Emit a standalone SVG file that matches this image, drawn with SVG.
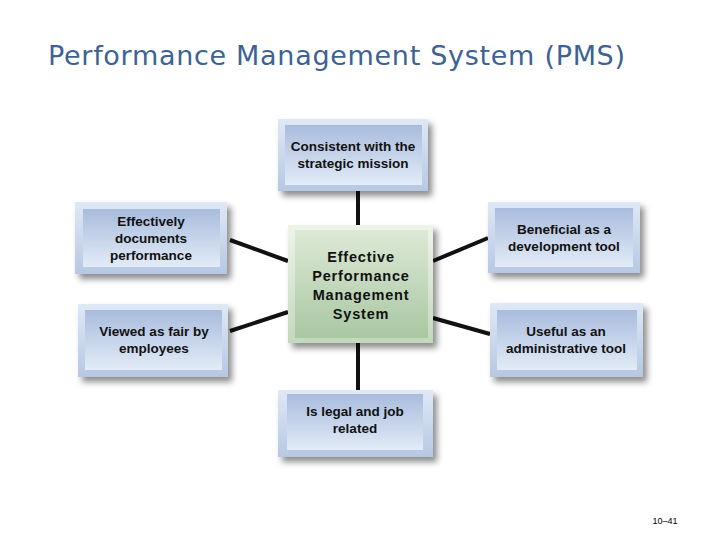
<svg xmlns="http://www.w3.org/2000/svg" width="720" height="540" viewBox="0 0 720 540">
<defs>
<linearGradient id="gIn" x1="0" y1="0" x2="0" y2="1"><stop offset="0" stop-color="#a9bcdd"/><stop offset="1" stop-color="#e2ebf7"/></linearGradient>
<linearGradient id="gOut" x1="0" y1="0" x2="0" y2="1"><stop offset="0" stop-color="#dfe8f5"/><stop offset="1" stop-color="#b7c8e3"/></linearGradient>
<linearGradient id="gGIn" x1="0" y1="0" x2="0" y2="1"><stop offset="0" stop-color="#dde9d6"/><stop offset="1" stop-color="#a9c7a2"/></linearGradient>
<linearGradient id="gGOut" x1="0" y1="0" x2="0" y2="1"><stop offset="0" stop-color="#eef4ea"/><stop offset="1" stop-color="#c3d8bd"/></linearGradient>
<filter id="sh" x="-20%" y="-20%" width="150%" height="160%"><feDropShadow dx="4" dy="5" stdDeviation="3" flood-color="#000" flood-opacity="0.45"/></filter>
</defs>
<style>
.out{fill:url(#gOut);filter:url(#sh)}
.in{fill:url(#gIn)}
.gout{fill:url(#gGOut);filter:url(#sh)}
.gin{fill:url(#gGIn)}
.t{font-family:"Liberation Sans",Arial,sans-serif;font-weight:bold;font-size:13.5px;fill:#111;text-anchor:middle}
.tc{font-family:"Liberation Sans",Arial,sans-serif;font-weight:bold;font-size:14.5px;fill:#111;text-anchor:middle;letter-spacing:0.8px}
.ln{stroke:#111;stroke-width:4;fill:none}
</style>
<rect width="720" height="540" fill="#fff"/>
<text x="48" y="65" font-family="'DejaVu Sans',Verdana,sans-serif" font-size="27" fill="#3d6294" textLength="577">Performance Management System (PMS)</text>
<g id="connectors">
<line class="ln" x1="358" y1="191" x2="358" y2="225"/>
<line class="ln" x1="358" y1="343" x2="358" y2="390"/>
<line class="ln" x1="230" y1="240" x2="288" y2="261"/>
<line class="ln" x1="230" y1="331" x2="288" y2="312"/>
<line class="ln" x1="433" y1="261" x2="488" y2="238"/>
<line class="ln" x1="433" y1="318" x2="490" y2="334"/>
</g>
<g id="n-top">
<rect class="out" x="278" y="119" width="150" height="72"/>
<rect class="in" x="285" y="125" width="137" height="60"/>
<text class="t" x="353" y="151">Consistent with the</text>
<text class="t" x="353" y="168">strategic mission</text>
</g>
<g id="n-left-top">
<rect class="out" x="75" y="202" width="152" height="72"/>
<rect class="in" x="83" y="209" width="137" height="58"/>
<text class="t" x="151" y="226">Effectively</text>
<text class="t" x="151" y="243">documents</text>
<text class="t" x="151" y="260">performance</text>
</g>
<g id="n-center">
<rect class="gout" x="288" y="225" width="145" height="118"/>
<rect class="gin" x="295" y="230" width="133" height="108"/>
<text class="tc" x="361" y="262">Effective</text>
<text class="tc" x="361" y="281">Performance</text>
<text class="tc" x="361" y="300">Management</text>
<text class="tc" x="361" y="319">System</text>
</g>
<g id="n-right-top">
<rect class="out" x="488" y="202" width="152" height="71"/>
<rect class="in" x="495" y="208" width="138" height="59"/>
<text class="t" x="564" y="234">Beneficial as a</text>
<text class="t" x="564" y="251">development tool</text>
</g>
<g id="n-left-bottom">
<rect class="out" x="78" y="304" width="150" height="73"/>
<rect class="in" x="85" y="310" width="137" height="60"/>
<text class="t" x="154" y="336">Viewed as fair by</text>
<text class="t" x="154" y="353">employees</text>
</g>
<g id="n-right-bottom">
<rect class="out" x="490" y="303" width="153" height="74"/>
<rect class="in" x="497" y="310" width="140" height="60"/>
<text class="t" x="566" y="336">Useful as an</text>
<text class="t" x="566" y="353">administrative tool</text>
</g>
<g id="n-bottom">
<rect class="out" x="278" y="390" width="155" height="67"/>
<rect class="in" x="287" y="394" width="136" height="56"/>
<text class="t" x="355" y="416">Is legal and job</text>
<text class="t" x="355" y="433">related</text>
</g>
<text x="665" y="524" font-family="'Liberation Sans',Arial,sans-serif" font-size="9" fill="#000" text-anchor="middle">10–41</text>
</svg>
